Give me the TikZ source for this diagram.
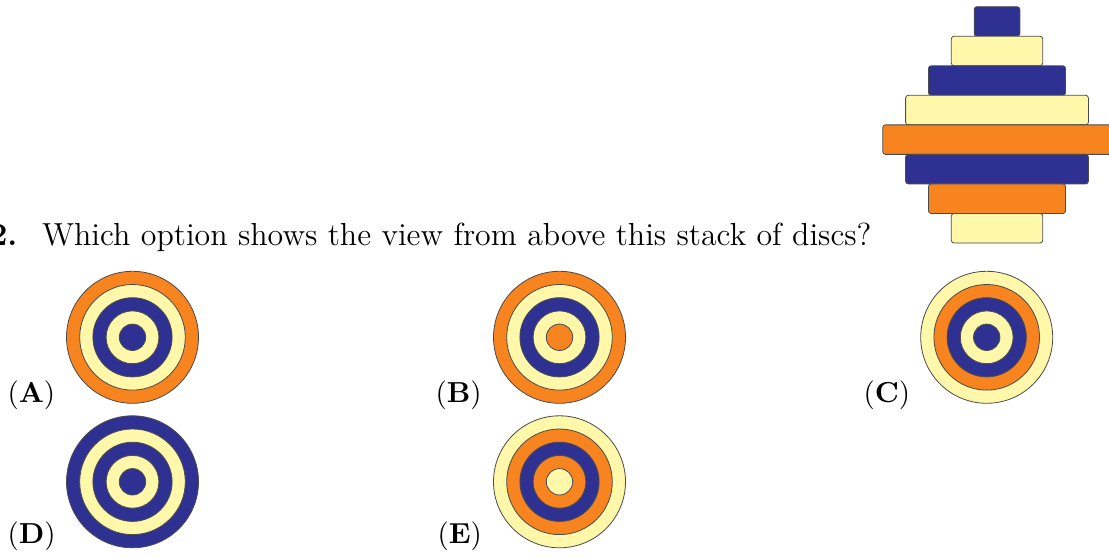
\documentclass[tikz,border=0pt]{standalone}
\usetikzlibrary{positioning}
\definecolor{discnavy}{RGB}{46,49,146}
\definecolor{discorange}{RGB}{247,132,31}
\definecolor{discyellow}{RGB}{255,248,170}

\begin{document}
\begin{tikzpicture}[x=0.37pt,y=0.37pt]
\tikzset{disc/.style={draw=black!70,line width=0.3pt,rounded corners=1pt},
  ring/.style={draw=black!70,line width=0.3pt},
  optlabel/.style={anchor=base west,inner sep=0pt,font=\fontsize{10.7}{12}\selectfont}}
\useasboundingbox (0,0) rectangle (1109,556);

% stack of discs, top to bottom
\foreach \k/\c [count=\i from 0] in {1/discnavy,2/discyellow,3/discnavy,4/discyellow,5/discorange,4/discnavy,3/discorange,2/discyellow}
  \draw[disc,fill=\c] ({997-22.85*\k},{549.3-29.54*\i}) rectangle ({997+22.85*\k},{519.76-29.54*\i});

% question
\node[anchor=base east,inner sep=0pt,font=\fontsize{11.8}{14}\selectfont\bfseries] (qnum) at (18,311) {2.};
\node[anchor=base west,inner sep=0pt,font=\fontsize{11.8}{14}\selectfont] (question) at (41.5,311) {Which option shows the view from above this stack of discs?};

% options, rings from outside in
\foreach \cx/\cy/\ca/\cb/\cc/\cd/\ce in {
  132.5/218.7/discorange/discyellow/discnavy/discyellow/discnavy,
  559.5/218.7/discorange/discyellow/discnavy/discyellow/discorange,
  986.7/218.7/discyellow/discorange/discnavy/discyellow/discnavy,
  132.5/74.2/discnavy/discyellow/discnavy/discyellow/discnavy,
  559.5/74.2/discyellow/discorange/discnavy/discorange/discyellow}
{
  \draw[ring,fill=\ca] (\cx,\cy) circle (66);
  \draw[ring,fill=\cb] (\cx,\cy) circle (52.8);
  \draw[ring,fill=\cc] (\cx,\cy) circle (39.6);
  \draw[ring,fill=\cd] (\cx,\cy) circle (26.4);
  \draw[ring,fill=\ce] (\cx,\cy) circle (13.2);
}

\node[optlabel] (optA) at (7,153.7) {(\textbf{A})};
\node[optlabel] (optB) at (435,153.7) {(\textbf{B})};
\node[optlabel] (optC) at (863,153.7) {(\textbf{C})};
\node[optlabel] (optD) at (7,12.7) {(\textbf{D})};
\node[optlabel] (optE) at (437,12.7) {(\textbf{E})};
\end{tikzpicture}
\end{document}
